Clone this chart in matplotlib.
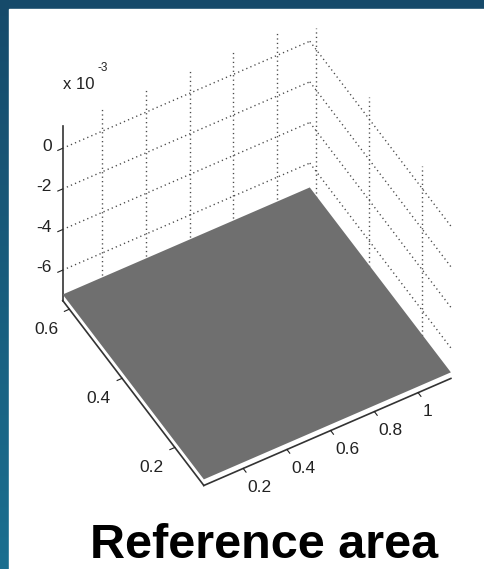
import numpy as np
import matplotlib as mpl
import matplotlib.pyplot as plt
from matplotlib.colors import LinearSegmentedColormap
from matplotlib.patches import Rectangle

# flat reference plane
x_edges = [0.02, 1.15]
y_edges = [0.09, 0.625]
z_level = -7.2e-3

x_ticks = [0.2, 0.4, 0.6, 0.8, 1.0]
x_ticklabels = ['0.2', '0.4', '0.6', '0.8', '1']
y_ticks = [0.2, 0.4, 0.6]
y_ticklabels = ['0.2', '0.4', '0.6']
z_ticks = [-6e-3, -4e-3, -2e-3, 0.0]
z_ticklabels = ['-6', '-4', '-2', '0']
z_lim = (-7.5e-3, 1.1e-3)

title = 'Reference area'

mpl.rcParams['font.family'] = ['Liberation Sans', 'DejaVu Sans']

W, H = 484, 569
fig = plt.figure(figsize=(W / 100, H / 100), dpi=100)

# blue frame + white panel
bg = fig.add_axes([0, 0, 1, 1])
grad = np.linspace(0, 1, 256).reshape(-1, 1)
cmap = LinearSegmentedColormap.from_list('frame', ['#164a6a', '#1b6f90'])
bg.imshow(grad, aspect='auto', cmap=cmap, extent=[0, 1, 0, 1], origin='upper')
bg.add_patch(Rectangle((9 / W, 0), 1 - 9 / W, 1 - 9 / H, color='white'))
bg.set_xlim(0, 1)
bg.set_ylim(0, 1)
bg.axis('off')

side = 467.5
cx, cy = 250.5, 258.5
ax = fig.add_axes([(cx - side / 2) / W, 1 - (cy + side / 2) / H, side / W, side / H],
                  projection='3d', proj_type='ortho')
ax.set_facecolor('none')
ax.computed_zorder = False

X, Y = np.meshgrid(x_edges, y_edges)
Z = np.full_like(X, z_level)
ax.plot_surface(X, Y, Z, color='#6f6f6f', shade=False, linewidth=0,
                antialiased=True, zorder=3)

xmin, xmax = x_edges
ymin, ymax = y_edges
ax.set_xlim(xmin, xmax)
ax.set_ylim(ymin, ymax)
ax.set_zlim(*z_lim)

# dotted grid on the two back walls
gkw = dict(color='#4a4a4a', lw=1.0, ls=(0, (0.9, 2.3)), zorder=1)
for xt in x_ticks:
    ax.plot([xt, xt], [ymax, ymax], list(z_lim), **gkw)
for yt in y_ticks:
    ax.plot([xmax, xmax], [yt, yt], list(z_lim), **gkw)
for zt in z_ticks:
    ax.plot([xmin, xmax], [ymax, ymax], [zt, zt], **gkw)
    ax.plot([xmax, xmax], [ymax, ymin], [zt, zt], **gkw)

ax.grid(False)
for axis in (ax.xaxis, ax.yaxis, ax.zaxis):
    axis.set_pane_color((1, 1, 1, 0))
    axis.pane.set_edgecolor((1, 1, 1, 0))
    axis.line.set_color('#333333')
    axis.line.set_linewidth(1.2)
    axis._axinfo['tick']['inward_factor'] = 0.25
    axis._axinfo['tick']['outward_factor'] = 0.0

ax.set_xticks(x_ticks)
ax.set_xticklabels(x_ticklabels, ha='left', va='top')
ax.set_yticks(y_ticks)
ax.set_yticklabels(y_ticklabels, ha='right', va='top')
ax.set_zticks(z_ticks)
ax.set_zticklabels(z_ticklabels, ha='right', va='center')
ax.tick_params(labelsize=12.5, colors='#222222')
ax.xaxis.set_tick_params(pad=-2.5)
ax.yaxis.set_tick_params(pad=0)
ax.zaxis.set_tick_params(pad=-3)

ax.view_init(elev=48.9, azim=-119.9)
ax.set_box_aspect((283.5, 281.6, 264.3))

fig.text(63 / W, 1 - 89 / H, 'x 10', fontsize=12, color='#222222')
fig.text(98 / W, 1 - 71 / H, '-3', fontsize=8.5, color='#222222')

fig.text(264 / W, 1 - 558 / H, title, fontsize=35, fontweight='bold',
         ha='center', va='baseline')

fig.savefig('out.png', dpi=100)
